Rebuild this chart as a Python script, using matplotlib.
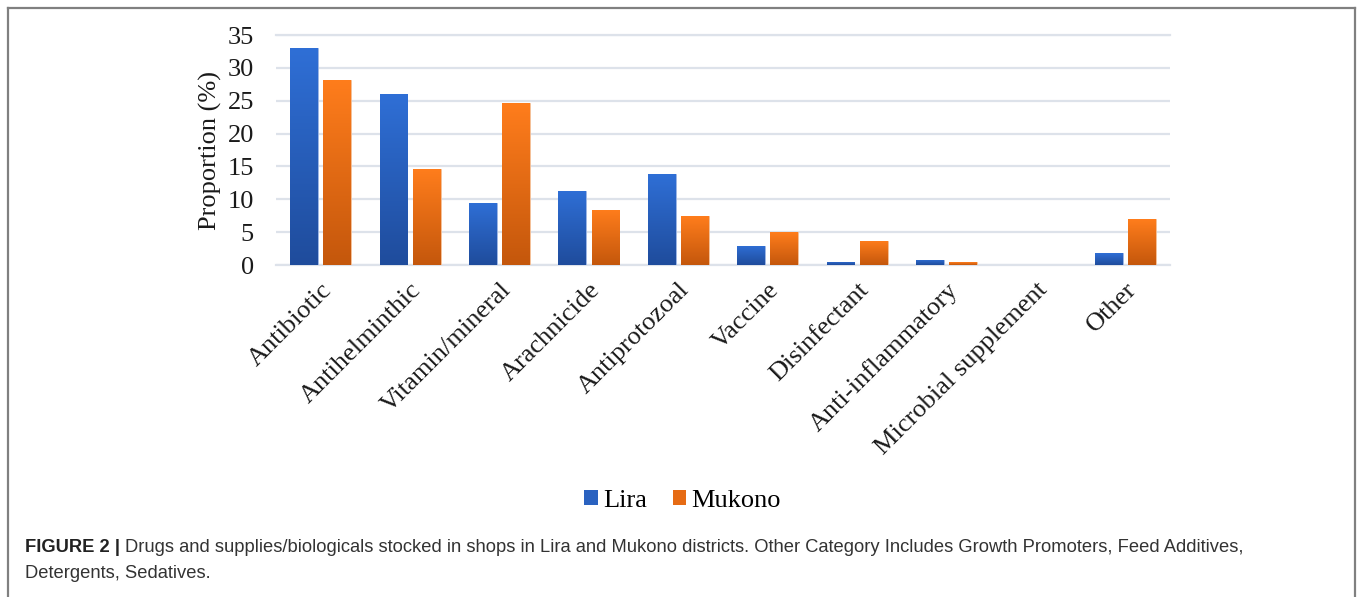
import numpy as np
import matplotlib
matplotlib.use("Agg")
import matplotlib.pyplot as plt
from matplotlib.colors import LinearSegmentedColormap
from matplotlib.patches import Patch
from matplotlib.lines import Line2D

categories = ["Antibiotic", "Antihelminthic", "Vitamin/mineral", "Arachnicide",
              "Antiprotozoal", "Vaccine", "Disinfectant", "Anti-inflammatory",
              "Microbial supplement", "Other"]
lira = [33.0, 26.0, 9.5, 11.3, 13.8, 2.9, 0.5, 0.8, 0.0, 1.8]
mukono = [28.2, 14.6, 24.6, 8.4, 7.4, 5.0, 3.7, 0.4, 0.0, 7.0]
yticks = [0, 5, 10, 15, 20, 25, 30, 35]

caption_bold = "FIGURE 2 | "
caption_line1 = ("Drugs and supplies/biologicals stocked in shops in Lira and Mukono districts. "
                 "Other Category Includes Growth Promoters, Feed Additives,")
caption_line2 = "Detergents, Sedatives."

serif = ["Liberation Serif", "DejaVu Serif"]
sans = ["Liberation Sans", "DejaVu Sans"]

# gradients like the office-style bars: lighter at the top, darker at the bottom
blue_cmap = LinearSegmentedColormap.from_list("blue", ["#1f4c9c", "#2f6fd6"])
orange_cmap = LinearSegmentedColormap.from_list("orange", ["#c4570c", "#ff7d1c"])

fig = plt.figure(figsize=(13.6, 5.97), dpi=100)
ax = fig.add_axes([276 / 1360, 1 - 265 / 597, 894 / 1360, 230 / 597])

x = np.arange(len(categories))
width = 0.31
off = 0.186
bars_l = ax.bar(x - off, lira, width, color="#2a62c0", edgecolor="#9fb8e6", linewidth=0.6, zorder=3)
bars_m = ax.bar(x + off, mukono, width, color="#e66b14", edgecolor="#f5c39c", linewidth=0.6, zorder=3)

grad = np.linspace(0, 1, 256).reshape(-1, 1)
for bars, cmap in [(bars_l, blue_cmap), (bars_m, orange_cmap)]:
    for b in bars:
        h = b.get_height()
        if h <= 0:
            continue
        x0 = b.get_x()
        im = ax.imshow(grad, cmap=cmap, origin="lower", aspect="auto",
                       extent=[x0, x0 + b.get_width(), 0, h], zorder=3.5)
        im.set_clip_path(b)

ax.set_xlim(-0.5, len(categories) - 0.5)
ax.set_ylim(0, 35)
ax.set_yticks(yticks)
ax.set_yticklabels([str(t) for t in yticks], fontsize=19, family=serif, color="#1a1a1a")
ax.set_xticks(x)
ax.set_xticklabels(categories, rotation=45, ha="right", rotation_mode="anchor",
                   fontsize=19, family=serif, color="#1a1a1a")
ax.tick_params(axis="both", length=0)
ax.tick_params(axis="y", pad=16)
ax.tick_params(axis="x", pad=10)
ax.yaxis.grid(True, color="#dde2ea", linewidth=1.6, zorder=0)
ax.set_axisbelow(True)
for s in ["top", "right", "left"]:
    ax.spines[s].set_visible(False)
ax.spines["bottom"].set_color("#dde2ea")
ax.spines["bottom"].set_linewidth(1.6)
# top gridline at 35
ax.axhline(35, color="#dde2ea", linewidth=1.6, zorder=0, clip_on=False)

ax.set_ylabel("Proportion (%)", fontsize=19, family=serif, color="#1a1a1a", labelpad=4)

handles = [Patch(facecolor="#2a62c0", edgecolor="none"),
           Patch(facecolor="#e66b14", edgecolor="none")]
fig.legend(handles, ["Lira", "Mukono"], loc="center", bbox_to_anchor=(0.502, 1 - 501 / 597),
           ncol=2, frameon=False, prop={"family": serif, "size": 19},
           handlelength=0.5, handleheight=0.5, handletextpad=0.2, columnspacing=1.0)

# frame around figure panel
frame_col = "#808080"
fig.add_artist(Line2D([8 / 1360, 1355 / 1360], [1 - 8 / 597, 1 - 8 / 597],
                      color=frame_col, linewidth=1.6, transform=fig.transFigure))
fig.add_artist(Line2D([8 / 1360, 8 / 1360], [1 - 8 / 597, 0],
                      color=frame_col, linewidth=1.6, transform=fig.transFigure))
fig.add_artist(Line2D([1355 / 1360, 1355 / 1360], [1 - 8 / 597, 0],
                      color=frame_col, linewidth=1.6, transform=fig.transFigure))

# caption: bold label then normal text
t_bold = fig.text(25 / 1360, 1 - 548 / 597, caption_bold, fontsize=13.2, family=sans,
                  weight="bold", va="center", ha="left", color="#222222")
fig.canvas.draw()
bb = t_bold.get_window_extent()
fig.text(bb.x1 / 1360, 1 - 548 / 597, caption_line1, fontsize=13.2, family=sans,
         va="center", ha="left", color="#333333")
fig.text(25 / 1360, 1 - 573 / 597, caption_line2, fontsize=13.2, family=sans,
         va="center", ha="left", color="#333333")

fig.savefig("out.png", dpi=100)
